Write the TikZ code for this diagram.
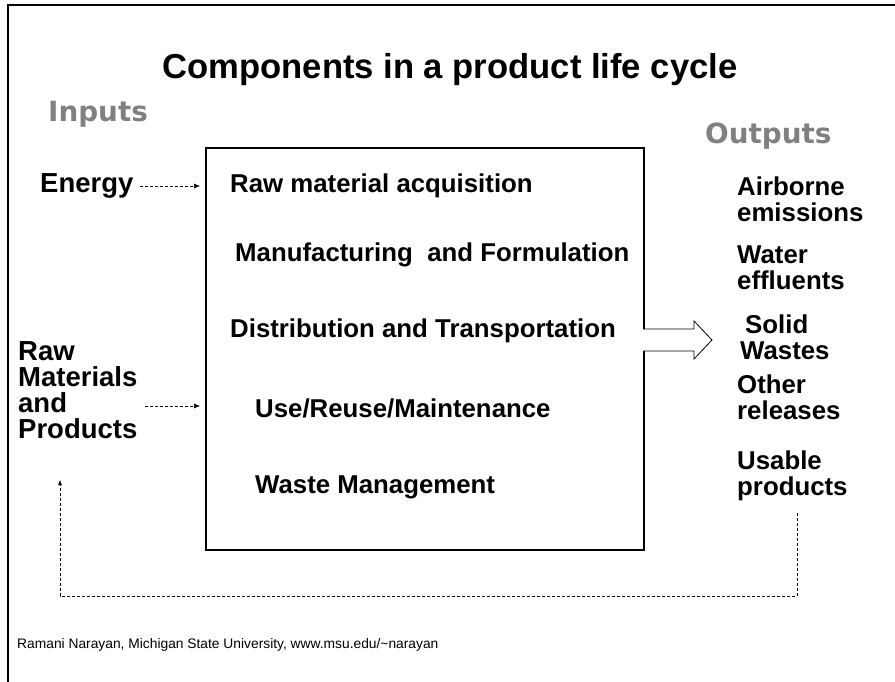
\documentclass[tikz,border=0pt]{standalone}
\usepackage{fontspec}
\setmainfont{Liberation Sans}
\newfontfamily\dejavu{DejaVu Sans}
\usetikzlibrary{arrows.meta}
\begin{document}
\begin{tikzpicture}[x=1pt,y=-1pt,
  body/.style={font=\fontsize{25.8}{26}\selectfont\bfseries, anchor=west, inner sep=0pt, align=left},
  leftbody/.style={body, font=\fontsize{27.5}{26}\selectfont\bfseries},
  head/.style={font=\dejavu\fontsize{27.8}{30}\selectfont\bfseries, text=black!50, anchor=west, inner sep=0pt},
  frameline/.style={line width=2.5pt},
  mainbox/.style={draw, line width=1.6pt, inner sep=0pt},
  feed/.style={densely dashed, line width=0.6pt},
  inarrow/.style={-{Latex[length=6pt,width=5pt]}, densely dashed, line width=0.6pt},
  blockarrow/.style={draw, line width=0.8pt, fill=white}
]
\useasboundingbox (0,0) rectangle (895,682);
\draw[frameline] (8,682) -- (8,5) -- (895,5);

\node[font=\fontsize{34.6}{40}\selectfont\bfseries] (title) at (450,70) {Components in a product life cycle};
\node[head] (inputs) at (48,114) {Inputs};
\node[head] (outputs) at (705,136) {Outputs};

\node[mainbox, minimum width=438pt, minimum height=402pt, anchor=north west] (box) at (205,147) {};

\node[body] (raw) at (230,186) {Raw material acquisition};
\node[body] (manu) at (235,255) {Manufacturing\ \ and Formulation};
\node[body] (dist) at (230,331) {Distribution and Transportation};
\node[body] (use) at (255,408) {Use/Reuse/Maintenance};
\node[body] (waste) at (255,487) {Waste Management};

\node[leftbody] (energy) at (40,186) {Energy};
\node[leftbody] (rawmat) at (18,390) {Raw\\Materials\\and\\Products};

\node[body] (air) at (737,199) {Airborne\\emissions};
\node[body] (water) at (737,268) {Water\\effluents};
\node[body] (solid) at (740,337) {\hspace*{5pt}Solid\\Wastes};
\node[body] (other) at (737,397) {Other\\releases};
\node[body] (usable) at (737,476) {Usable\\products};

\node[font=\fontsize{13.8}{15}\selectfont, anchor=west, inner sep=0pt] (credit) at (17,645) {Ramani Narayan, Michigan State University, www.msu.edu/\textasciitilde narayan};

% input arrows
\draw[inarrow] ([xshift=6pt]energy.east) -- ([xshift=-5pt]box.west |- energy.east);
\coordinate (rmA) at (145,406);
\draw[inarrow] (rmA) -- ([xshift=-5pt]box.west |- rmA);

% block output arrow
\coordinate (bT) at (643,329);
\coordinate (bB) at (643,351);
\coordinate (tip) at (712,340);
\draw[blockarrow] (bT) -- (694,329) -- (694,321) -- (tip) -- (694,359) -- (694,351) -- (bB);

% feedback loop
\coordinate (fbR) at (797,513);
\coordinate (fbL) at (60,480);
\draw[feed,-{Latex[length=5pt,width=4pt]}] (fbR) -- (797,596) -- (60,596) -- (fbL);
\end{tikzpicture}
\end{document}
